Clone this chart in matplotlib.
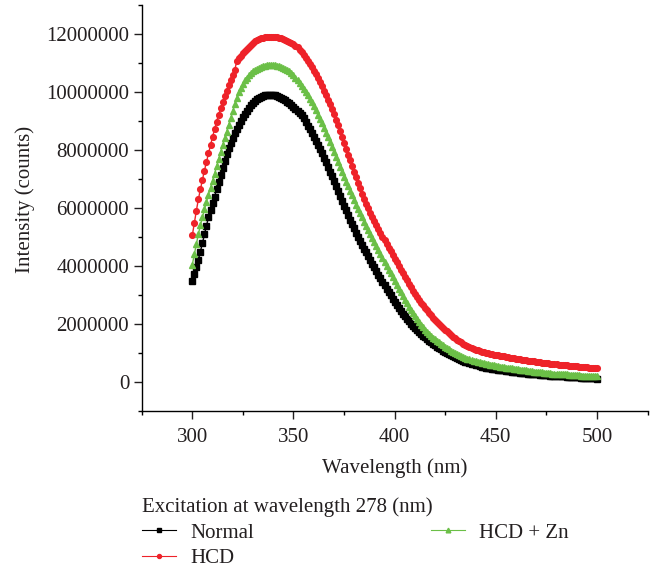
import numpy as np
import matplotlib
matplotlib.use("Agg")
import matplotlib.pyplot as plt
from matplotlib.ticker import MultipleLocator, FuncFormatter

plt.rcParams['font.family'] = ['Liberation Serif', 'DejaVu Serif']

# emission wavelengths (nm), one reading per nm
wavelength = list(range(300, 501))

# intensities, in units of 10^6 counts
normal = [
    3.47, 3.72, 3.96, 4.21, 4.49, 4.78, 5.09, 5.39, 5.67, 5.93,
    6.16, 6.39, 6.64, 6.88, 7.13, 7.37, 7.62, 7.86, 8.07, 8.25,
    8.42, 8.57, 8.71, 8.86, 9.00, 9.14, 9.25, 9.35, 9.45, 9.54,
    9.62, 9.69, 9.75, 9.80, 9.84, 9.86, 9.88, 9.89, 9.90, 9.90,
    9.89, 9.88, 9.86, 9.83, 9.80, 9.76, 9.72, 9.67, 9.62, 9.56,
    9.50, 9.43, 9.36, 9.29, 9.20, 9.09, 8.97, 8.84, 8.71, 8.57,
    8.44, 8.31, 8.17, 8.03, 7.88, 7.73, 7.57, 7.41, 7.25, 7.09,
    6.93, 6.76, 6.59, 6.42, 6.25, 6.08, 5.91, 5.75, 5.59, 5.44,
    5.29, 5.14, 5.00, 4.86, 4.72, 4.59, 4.46, 4.33, 4.20, 4.07,
    3.95, 3.82, 3.69, 3.57, 3.45, 3.33, 3.21, 3.09, 2.98, 2.87,
    2.76, 2.65, 2.55, 2.45, 2.35, 2.26, 2.17, 2.08, 2.00, 1.92,
    1.85, 1.78, 1.71, 1.65, 1.59, 1.53, 1.47, 1.41, 1.36, 1.31,
    1.26, 1.21, 1.16, 1.12, 1.07, 1.03, 0.99, 0.95, 0.91, 0.87,
    0.84, 0.81, 0.78, 0.75, 0.72, 0.69, 0.67, 0.64, 0.62, 0.60,
    0.58, 0.56, 0.54, 0.52, 0.51, 0.49, 0.48, 0.46, 0.45, 0.44,
    0.43, 0.42, 0.41, 0.40, 0.39, 0.38, 0.37, 0.36, 0.35, 0.34,
    0.33, 0.32, 0.31, 0.30, 0.30, 0.29, 0.28, 0.27, 0.27, 0.26,
    0.25, 0.25, 0.24, 0.23, 0.23, 0.22, 0.22, 0.21, 0.21, 0.20,
    0.20, 0.19, 0.19, 0.18, 0.18, 0.17, 0.17, 0.16, 0.16, 0.16,
    0.15, 0.15, 0.14, 0.14, 0.14, 0.13, 0.13, 0.12, 0.12, 0.12,
    0.11,
]

hcd = [
    5.05, 5.48, 5.90, 6.30, 6.64, 6.97, 7.29, 7.59, 7.88, 8.17,
    8.45, 8.72, 8.98, 9.22, 9.44, 9.65, 9.85, 10.05, 10.24, 10.42,
    10.60, 10.76, 11.08, 11.17, 11.25, 11.33, 11.42, 11.50, 11.57, 11.64,
    11.70, 11.75, 11.79, 11.83, 11.86, 11.88, 11.89, 11.90, 11.91, 11.91,
    11.91, 11.90, 11.89, 11.88, 11.86, 11.83, 11.80, 11.77, 11.74, 11.70,
    11.66, 11.60, 11.54, 11.46, 11.37, 11.27, 11.17, 11.07, 10.96, 10.85,
    10.73, 10.61, 10.48, 10.34, 10.20, 10.05, 9.89, 9.73, 9.57, 9.40,
    9.23, 9.05, 8.86, 8.66, 8.45, 8.24, 8.04, 7.84, 7.64, 7.44,
    7.24, 7.05, 6.86, 6.67, 6.49, 6.31, 6.15, 5.99, 5.84, 5.69,
    5.55, 5.41, 5.27, 5.14, 5.01, 4.88, 4.75, 4.62, 4.50, 4.37,
    4.25, 4.12, 3.99, 3.87, 3.74, 3.62, 3.50, 3.38, 3.26, 3.14,
    3.02, 2.92, 2.82, 2.73, 2.64, 2.55, 2.46, 2.38, 2.29, 2.21,
    2.13, 2.06, 1.99, 1.93, 1.86, 1.80, 1.74, 1.68, 1.62, 1.56,
    1.50, 1.45, 1.40, 1.36, 1.31, 1.27, 1.23, 1.20, 1.17, 1.14,
    1.11, 1.09, 1.06, 1.04, 1.01, 0.99, 0.98, 0.96, 0.95, 0.93,
    0.92, 0.91, 0.89, 0.88, 0.87, 0.86, 0.85, 0.83, 0.82, 0.81,
    0.80, 0.79, 0.78, 0.76, 0.75, 0.74, 0.73, 0.72, 0.71, 0.70,
    0.69, 0.68, 0.67, 0.66, 0.65, 0.64, 0.63, 0.62, 0.62, 0.61,
    0.60, 0.59, 0.58, 0.58, 0.57, 0.56, 0.55, 0.55, 0.54, 0.53,
    0.53, 0.52, 0.52, 0.51, 0.50, 0.50, 0.49, 0.49, 0.48, 0.48,
    0.47,
]

hcd_zn = [
    4.04, 4.40, 4.75, 5.09, 5.40, 5.68, 5.95, 6.21, 6.46, 6.70,
    6.93, 7.18, 7.43, 7.68, 7.93, 8.17, 8.40, 8.63, 8.86, 9.10,
    9.34, 9.57, 9.80, 10.00, 10.15, 10.28, 10.40, 10.50, 10.59, 10.66,
    10.72, 10.77, 10.81, 10.84, 10.87, 10.89, 10.91, 10.92, 10.93, 10.93,
    10.93, 10.92, 10.91, 10.89, 10.87, 10.84, 10.80, 10.76, 10.71, 10.65,
    10.58, 10.50, 10.41, 10.32, 10.22, 10.11, 10.00, 9.89, 9.77, 9.64,
    9.51, 9.37, 9.22, 9.07, 8.92, 8.76, 8.60, 8.43, 8.26, 8.09,
    7.92, 7.75, 7.58, 7.41, 7.24, 7.07, 6.91, 6.75, 6.59, 6.43,
    6.27, 6.11, 5.96, 5.81, 5.67, 5.53, 5.39, 5.25, 5.11, 4.97,
    4.83, 4.70, 4.56, 4.42, 4.28, 4.14, 4.00, 3.87, 3.74, 3.60,
    3.47, 3.34, 3.21, 3.08, 2.95, 2.83, 2.71, 2.59, 2.48, 2.37,
    2.26, 2.16, 2.06, 1.97, 1.88, 1.80, 1.72, 1.65, 1.58, 1.52,
    1.46, 1.41, 1.36, 1.31, 1.26, 1.21, 1.16, 1.12, 1.07, 1.03,
    0.99, 0.96, 0.92, 0.89, 0.86, 0.83, 0.80, 0.78, 0.75, 0.73,
    0.71, 0.69, 0.67, 0.65, 0.63, 0.62, 0.60, 0.59, 0.57, 0.56,
    0.55, 0.53, 0.52, 0.51, 0.50, 0.49, 0.48, 0.47, 0.46, 0.45,
    0.44, 0.43, 0.42, 0.41, 0.40, 0.39, 0.38, 0.37, 0.36, 0.35,
    0.34, 0.33, 0.33, 0.32, 0.31, 0.30, 0.30, 0.29, 0.28, 0.28,
    0.27, 0.27, 0.26, 0.26, 0.25, 0.25, 0.24, 0.24, 0.23, 0.23,
    0.22, 0.22, 0.21, 0.21, 0.21, 0.20, 0.20, 0.20, 0.19, 0.19,
    0.19,
]

series_names = ["Normal", "HCD", "HCD + Zn"]
legend_title = "Excitation at wavelength 278 (nm)"

FS = 15
TXT = '#231f20'

wl = np.array(wavelength)
fig = plt.figure(figsize=(6.51, 5.68), dpi=100)
ax = fig.add_axes([0.2177, 0.277, 0.777, 0.714])

l1, = ax.plot(wl, np.array(normal) * 1e6, color='black', marker='s', ms=3.9,
              lw=1.0, label=series_names[0])
l2, = ax.plot(wl, np.array(hcd) * 1e6, color='#ee2229', marker='o', ms=4.1,
              lw=1.0, label=series_names[1])
l3, = ax.plot(wl, np.array(hcd_zn) * 1e6, color='#6bbf47', marker='^', ms=4.8,
              lw=1.0, label=series_names[2])

ax.set_xlim(275, 525)
ax.set_ylim(-1e6, 13e6)
ax.xaxis.set_major_locator(MultipleLocator(50))
ax.xaxis.set_minor_locator(MultipleLocator(25))
ax.yaxis.set_major_locator(MultipleLocator(2e6))
ax.yaxis.set_minor_locator(MultipleLocator(1e6))
ax.yaxis.set_major_formatter(FuncFormatter(lambda v, p: f"{v:.0f}"))

for s in ['top', 'right']:
    ax.spines[s].set_visible(False)
for s in ['left', 'bottom']:
    ax.spines[s].set_linewidth(1.0)
ax.tick_params(which='major', direction='out', length=5.5, width=1.0,
               labelsize=FS, colors=TXT)
ax.tick_params(which='minor', direction='out', length=2.8, width=1.0)
ax.tick_params(axis='x', pad=7)

ax.set_xlabel("Wavelength (nm)", fontsize=FS, color=TXT, labelpad=8)
ax.set_ylabel("Intensity (counts)", fontsize=FS, color=TXT, labelpad=8)
ax.yaxis.label.set_y(0.52)

leg = fig.legend(handles=[l1, l2, l3], title=legend_title, ncol=2,
                 loc='upper left', frameon=False,
                 fontsize=FS, title_fontsize=FS, alignment='left',
                 borderpad=0, borderaxespad=0, handlelength=1.63,
                 handletextpad=0.69, columnspacing=8.5, labelspacing=0.3,
                 numpoints=1, markerscale=0.7)
leg.set_bbox_to_anchor((0.2177, 1 - 497 / 568), transform=fig.transFigure)
for h in leg.legend_handles:
    h.set_linewidth(0.8)
for t in leg.get_texts():
    t.set_color(TXT)
leg.get_title().set_color(TXT)

fig.savefig("out.png", dpi=100)
